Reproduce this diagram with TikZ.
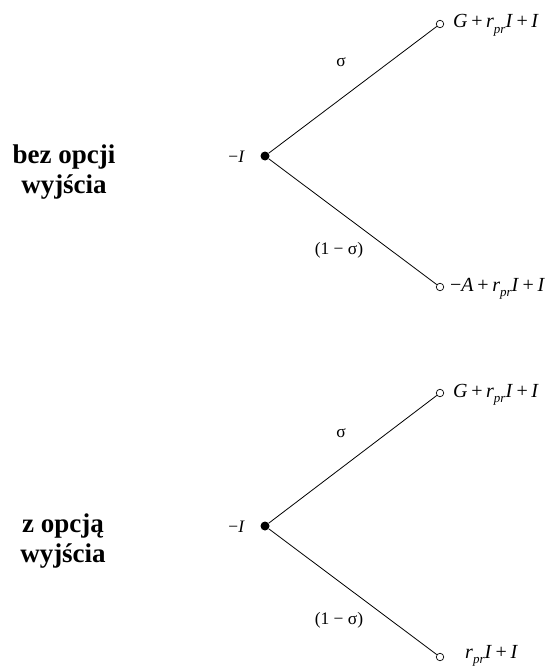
\documentclass[tikz,border=0pt]{standalone}
\usepackage{fontspec}
\setmainfont{Liberation Serif}
\newcommand{\mysubpr}{\raisebox{-0.28em}{\fontsize{13}{15}\selectfont\itshape pr}}
\newcommand{\mypl}{\hspace{0.18em}+\hspace{0.18em}}
\begin{document}
\begin{tikzpicture}[x=1pt,y=-1pt,
  root/.style={circle,fill=black,inner sep=0pt,minimum size=9pt},
  leaf/.style={circle,draw=black,fill=white,inner sep=0pt,minimum size=7.5pt,line width=0.7pt},
  branch/.style={line width=0.8pt},
  outc/.style={anchor=base west,font=\fontsize{20}{24}\selectfont,inner sep=0pt},
  prob/.style={anchor=base,font=\fontsize{17.5}{21}\selectfont,inner sep=0pt},
  side/.style={anchor=base,font=\fontsize{27}{31}\selectfont\bfseries,inner sep=0pt}]
\useasboundingbox (0,0) rectangle (547,666);
% top tree
\node[root] (r1) at (265,156) {};
\node[leaf] (a1) at (440,24) {};
\node[leaf] (b1) at (440,287) {};
\draw[branch] (r1) -- (a1);
\draw[branch] (r1) -- (b1);
\node[outc] (ta1) at (453,28) {\textit{G}\mypl\textit{r}\mysubpr\textit{I}\mypl\textit{I}};
\node[outc] (tb1) at (450,291) {−\textit{A}\mypl\textit{r}\mysubpr\textit{I}\mypl\textit{I}};
\node[prob] (s1) at (341,67) {σ};
\node[prob] (q1) at (339,254) {(1 − σ)};
\node[prob,anchor=base east] (i1) at (245,162) {−\textit{I}};
\node[side] (l1a) at (64,163) {bez opcji};
\node[side] (l1b) at (64,193) {wyjścia};
% bottom tree
\node[root] (r2) at (265,526) {};
\node[leaf] (a2) at (440,393) {};
\node[leaf] (b2) at (440,657) {};
\draw[branch] (r2) -- (a2);
\draw[branch] (r2) -- (b2);
\node[outc] (ta2) at (453,397) {\textit{G}\mypl\textit{r}\mysubpr\textit{I}\mypl\textit{I}};
\node[outc] (tb2) at (465,658) {\textit{r}\mysubpr\textit{I}\mypl\textit{I}};
\node[prob] (s2) at (341,437) {σ};
\node[prob] (q2) at (339,624) {(1 − σ)};
\node[prob,anchor=base east] (i2) at (245,532) {−\textit{I}};
\node[side] (l2a) at (63,532) {z opcją};
\node[side] (l2b) at (63,562) {wyjścia};
\end{tikzpicture}
\end{document}
